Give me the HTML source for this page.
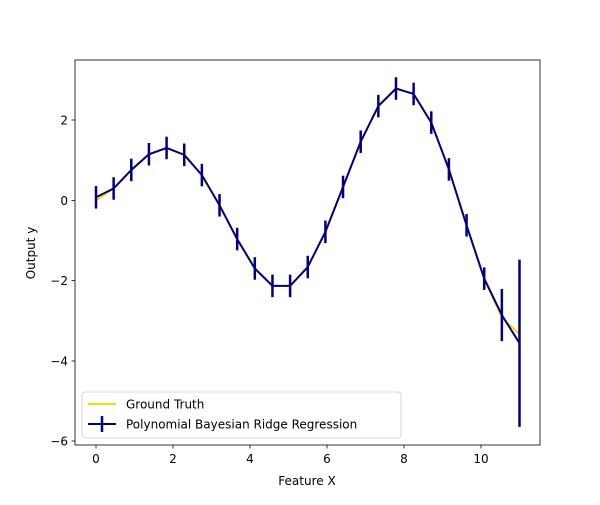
<!DOCTYPE html>
<html><head><meta charset="utf-8"><style>
body{margin:0;background:#fff}
text{font-family:"DejaVu Sans","Liberation Sans",sans-serif;font-size:12px;fill:#000}
</style></head><body>
<svg id="s" width="600" height="500" xmlns="http://www.w3.org/2000/svg">
<rect x="0" y="0" width="600" height="500" fill="#fff"/>
<g id="data"></g>
<rect x="75" y="60" width="465" height="385" fill="none" stroke="#000" stroke-width="0.8"/>
<g stroke="#000" stroke-width="0.8">
<line x1="96" y1="445" x2="96" y2="448.5"/><line x1="173" y1="445" x2="173" y2="448.5"/>
<line x1="250" y1="445" x2="250" y2="448.5"/><line x1="327" y1="445" x2="327" y2="448.5"/>
<line x1="404" y1="445" x2="404" y2="448.5"/><line x1="481" y1="445" x2="481" y2="448.5"/>
<line x1="71.5" y1="120" x2="75" y2="120"/><line x1="71.5" y1="200.5" x2="75" y2="200.5"/>
<line x1="71.5" y1="280.5" x2="75" y2="280.5"/><line x1="71.5" y1="361" x2="75" y2="361"/>
<line x1="71.5" y1="441" x2="75" y2="441"/>
</g>
<g text-anchor="middle">
<text x="96" y="463">0</text><text x="173" y="463">2</text><text x="250" y="463">4</text>
<text x="327" y="463">6</text><text x="404" y="463">8</text><text x="481" y="463">10</text>
<text x="307" y="485">Feature X</text>
</g>
<g text-anchor="end">
<text x="68" y="124.5">2</text><text x="68" y="205">0</text><text x="68" y="285">−2</text>
<text x="68" y="365.5">−4</text><text x="68" y="445.5">−6</text>
</g>
<text transform="translate(35,253) rotate(-90)" text-anchor="middle">Output y</text>
<rect x="82" y="392" width="319" height="46" rx="3" fill="#fff" fill-opacity="0.8" stroke="#ccc" stroke-width="0.8"/>
<line x1="88" y1="404" x2="116" y2="404" stroke="#ffd700" stroke-width="2"/>
<line x1="88" y1="424" x2="116" y2="424" stroke="#000080" stroke-width="2"/>
<line x1="102" y1="416" x2="102" y2="432" stroke="#000080" stroke-width="2.5"/>
<text x="126" y="408.5">Ground Truth</text>
<text x="126" y="428.5">Polynomial Bayesian Ridge Regression</text>
</svg>
<script>
var g=document.getElementById('data'),ns='http://www.w3.org/2000/svg';
function px(x){return 96+x*38.5}function py(y){return 200.5-y*40.2}
var gt=[],pr=[],bars='';
for(var i=0;i<25;i++){var x=11*i/24,y=Math.sqrt(x)*Math.sin(x);
gt.push(px(x)+','+py(y));var m=y,s=0.28;
if(i==0){m=0.08;}if(i==23){m=-2.85;s=0.65;}if(i==24){m=-3.55;s=2.08;}
pr.push(px(x)+','+py(m));
bars+='<line x1="'+px(x)+'" y1="'+py(m+s)+'" x2="'+px(x)+'" y2="'+py(m-s)+'" stroke="#000080" stroke-width="2.5"/>';}
g.innerHTML='<polyline points="'+gt.join(' ')+'" fill="none" stroke="#ffd700" stroke-width="2"/>'+
'<polyline points="'+pr.join(' ')+'" fill="none" stroke="#000080" stroke-width="2"/>'+bars;
</script>
</body></html>
